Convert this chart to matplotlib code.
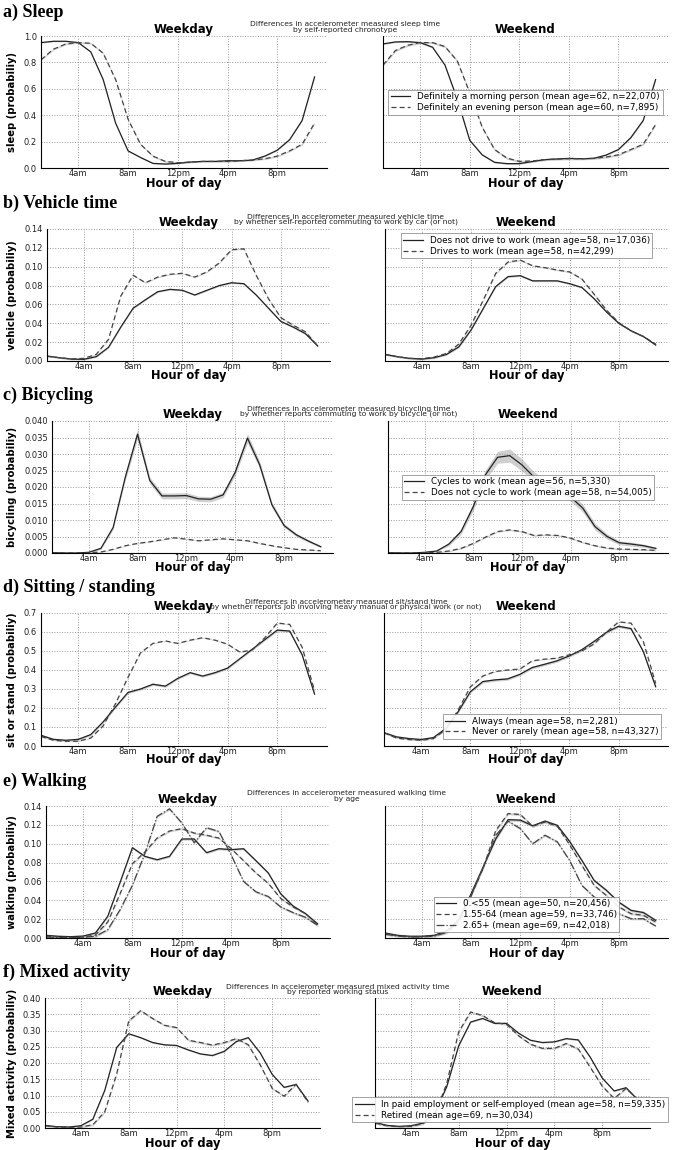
import matplotlib
matplotlib.use('Agg')
import matplotlib.pyplot as plt
from matplotlib import font_manager
import numpy as np

W, H = 673, 1150

hours = list(range(1, 24))
tick_hours = [4, 8, 12, 16, 20]
tick_names = ['4am', '8am', '12pm', '4pm', '8pm']

# a) sleep
sleep_wd_morning = [0.95, 0.96, 0.96, 0.95, 0.88, 0.67, 0.34, 0.13, 0.08, 0.035, 0.03, 0.035, 0.045, 0.05, 0.05, 0.055, 0.055, 0.06, 0.09, 0.135, 0.215, 0.36, 0.69]
sleep_wd_evening = [0.82, 0.90, 0.94, 0.95, 0.945, 0.87, 0.67, 0.37, 0.18, 0.09, 0.05, 0.04, 0.045, 0.05, 0.05, 0.05, 0.055, 0.06, 0.07, 0.09, 0.13, 0.18, 0.34]
sleep_we_morning = [0.94, 0.955, 0.957, 0.95, 0.915, 0.78, 0.52, 0.21, 0.10, 0.043, 0.033, 0.033, 0.048, 0.063, 0.068, 0.073, 0.07, 0.073, 0.098, 0.14, 0.23, 0.36, 0.67]
sleep_we_evening = [0.78, 0.89, 0.93, 0.95, 0.95, 0.92, 0.81, 0.57, 0.31, 0.14, 0.075, 0.05, 0.053, 0.063, 0.068, 0.07, 0.07, 0.073, 0.083, 0.10, 0.14, 0.18, 0.33]
sleep_labels = ['Definitely a morning person (mean age=62, n=22,070)',
                'Definitely an evening person (mean age=60, n=7,895)']

# b) vehicle
vehicle_wd_nodrive = [0.0053, 0.0035, 0.002, 0.0018, 0.0046, 0.0145, 0.036, 0.056, 0.065, 0.0735, 0.076, 0.075, 0.070, 0.075, 0.080, 0.083, 0.082, 0.070, 0.056, 0.042, 0.036, 0.029, 0.016]
vehicle_wd_drive = [0.005, 0.0035, 0.0022, 0.0028, 0.007, 0.023, 0.069, 0.091, 0.083, 0.089, 0.092, 0.093, 0.089, 0.0945, 0.104, 0.118, 0.119, 0.091, 0.066, 0.046, 0.038, 0.031, 0.016]
vehicle_we_nodrive = [0.007, 0.0046, 0.0028, 0.002, 0.0035, 0.007, 0.015, 0.033, 0.056, 0.079, 0.0895, 0.0905, 0.085, 0.085, 0.085, 0.082, 0.078, 0.066, 0.052, 0.040, 0.032, 0.026, 0.017]
vehicle_we_drive = [0.007, 0.0046, 0.0028, 0.0025, 0.0042, 0.008, 0.018, 0.038, 0.065, 0.093, 0.105, 0.107, 0.101, 0.099, 0.0965, 0.0945, 0.087, 0.0707, 0.054, 0.0407, 0.032, 0.026, 0.018]
vehicle_labels = ['Does not drive to work (mean age=58, n=17,036)',
                  'Drives to work (mean age=58, n=42,299)']

# c) bicycling
bike_wd_cycles = [0.0001, 0.0, 0.0, 0.0002, 0.0014, 0.0077, 0.023, 0.036, 0.022, 0.0173, 0.0173, 0.0174, 0.0164, 0.0163, 0.0176, 0.0245, 0.0348, 0.0267, 0.0146, 0.0083, 0.0055, 0.0036, 0.0019]
bike_wd_cycles_ci = [0.0001, 0.0, 0.0, 0.0001, 0.0003, 0.0006, 0.001, 0.0015, 0.001, 0.0009, 0.0009, 0.0009, 0.0008, 0.0008, 0.0008, 0.001, 0.0014, 0.0011, 0.0008, 0.0006, 0.0005, 0.0004, 0.0003]
bike_wd_nocycle = [0.0, 0.0, 0.0, 0.0001, 0.0003, 0.0011, 0.0022, 0.0029, 0.0034, 0.004, 0.0046, 0.0042, 0.0037, 0.004, 0.0043, 0.004, 0.0037, 0.0029, 0.0022, 0.0016, 0.0011, 0.0009, 0.0007]
bike_we_cycles = [0.0001, 0.0, 0.0, 0.0002, 0.0006, 0.0027, 0.0065, 0.014, 0.0237, 0.029, 0.0295, 0.0267, 0.023, 0.0204, 0.019, 0.017, 0.0136, 0.008, 0.005, 0.0031, 0.0027, 0.0022, 0.0014]
bike_we_cycles_ci = [0.0, 0.0, 0.0, 0.0001, 0.0002, 0.0005, 0.0008, 0.0012, 0.0015, 0.0018, 0.002, 0.0018, 0.0016, 0.0015, 0.0014, 0.0013, 0.0012, 0.001, 0.0008, 0.0006, 0.0006, 0.0005, 0.0004]
bike_we_nocycle = [0.0, 0.0, 0.0, 0.0001, 0.0002, 0.0006, 0.0014, 0.0029, 0.0048, 0.0065, 0.007, 0.0065, 0.0053, 0.0055, 0.0053, 0.0045, 0.0032, 0.0022, 0.0015, 0.0012, 0.0011, 0.001, 0.0008]
bike_labels = ['Cycles to work (mean age=56, n=5,330)',
               'Does not cycle to work (mean age=58, n=54,005)']

# d) sitting / standing
sit_wd_always = [0.056, 0.035, 0.03, 0.035, 0.06, 0.127, 0.206, 0.282, 0.30, 0.325, 0.315, 0.356, 0.386, 0.368, 0.386, 0.41, 0.46, 0.51, 0.56, 0.61, 0.605, 0.48, 0.273]
sit_wd_never = [0.05, 0.03, 0.025, 0.025, 0.042, 0.106, 0.224, 0.362, 0.49, 0.54, 0.553, 0.54, 0.557, 0.57, 0.557, 0.536, 0.494, 0.506, 0.57, 0.647, 0.64, 0.52, 0.29]
sit_we_always = [0.07, 0.048, 0.039, 0.034, 0.044, 0.092, 0.18, 0.286, 0.339, 0.348, 0.353, 0.377, 0.413, 0.43, 0.448, 0.474, 0.506, 0.55, 0.598, 0.63, 0.618, 0.497, 0.312]
sit_we_never = [0.07, 0.042, 0.034, 0.03, 0.039, 0.086, 0.189, 0.312, 0.368, 0.392, 0.40, 0.405, 0.448, 0.457, 0.462, 0.48, 0.50, 0.536, 0.598, 0.653, 0.647, 0.55, 0.33]
sit_labels = ['Always (mean age=58, n=2,281)',
              'Never or rarely (mean age=58, n=43,327)']

# e) walking
walk_wd_u55 = [0.0028, 0.0018, 0.0014, 0.002, 0.0053, 0.023, 0.059, 0.0958, 0.0866, 0.083, 0.0866, 0.105, 0.105, 0.0905, 0.0947, 0.0937, 0.0947, 0.082, 0.069, 0.047, 0.034, 0.026, 0.015]
walk_wd_55_64 = [0.002, 0.001, 0.0007, 0.001, 0.0032, 0.017, 0.047, 0.079, 0.091, 0.106, 0.1135, 0.116, 0.1113, 0.109, 0.106, 0.0947, 0.082, 0.069, 0.058, 0.042, 0.033, 0.026, 0.014]
walk_wd_65 = [0.001, 0.0005, 0.0005, 0.0007, 0.0018, 0.0088, 0.030, 0.056, 0.0894, 0.129, 0.137, 0.122, 0.101, 0.117, 0.113, 0.088, 0.060, 0.049, 0.044, 0.033, 0.027, 0.022, 0.0134]
walk_we_u55 = [0.0053, 0.0028, 0.0018, 0.0018, 0.0028, 0.0074, 0.0194, 0.047, 0.076, 0.105, 0.1255, 0.125, 0.119, 0.124, 0.1195, 0.1025, 0.0823, 0.061, 0.0505, 0.038, 0.0293, 0.027, 0.0187]
walk_we_55_64 = [0.0046, 0.0025, 0.0014, 0.0014, 0.0025, 0.0067, 0.0187, 0.045, 0.075, 0.114, 0.132, 0.131, 0.1185, 0.123, 0.1185, 0.099, 0.077, 0.0558, 0.045, 0.033, 0.0258, 0.024, 0.017]
walk_we_65 = [0.0039, 0.0021, 0.001, 0.001, 0.002, 0.0057, 0.0177, 0.045, 0.075, 0.109, 0.124, 0.116, 0.10, 0.109, 0.102, 0.0823, 0.0558, 0.0435, 0.034, 0.0258, 0.0205, 0.0205, 0.0127]
walk_labels = ['0.<55 (mean age=50, n=20,456)',
               '1.55-64 (mean age=59, n=33,746)',
               '2.65+ (mean age=69, n=42,018)']

# f) mixed activity
mixed_wd_paid = [0.008, 0.004, 0.003, 0.007, 0.027, 0.116, 0.248, 0.29, 0.278, 0.263, 0.256, 0.254, 0.24, 0.228, 0.223, 0.236, 0.266, 0.278, 0.231, 0.165, 0.125, 0.134, 0.083]
mixed_wd_retired = [0.007, 0.003, 0.002, 0.003, 0.01, 0.05, 0.167, 0.329, 0.361, 0.337, 0.316, 0.309, 0.27, 0.263, 0.255, 0.263, 0.275, 0.256, 0.194, 0.122, 0.098, 0.135, 0.079]
mixed_we_paid = [0.017, 0.008, 0.005, 0.007, 0.015, 0.046, 0.127, 0.253, 0.326, 0.337, 0.322, 0.322, 0.292, 0.27, 0.263, 0.265, 0.275, 0.271, 0.218, 0.154, 0.114, 0.124, 0.086]
mixed_we_retired = [0.015, 0.007, 0.004, 0.005, 0.013, 0.04, 0.137, 0.296, 0.357, 0.346, 0.324, 0.319, 0.284, 0.258, 0.245, 0.245, 0.26, 0.243, 0.187, 0.129, 0.091, 0.122, 0.086]
mixed_labels = ['In paid employment or self-employed (mean age=58, n=59,335)',
                'Retired (mean age=69, n=30,034)']

# narrow bold face for the y labels if one is installed
ylab_font = None
for f in font_manager.fontManager.ttflist:
    fn = f.fname.lower()
    if ('narrow' in fn or 'condensed' in fn) and f.weight in (700, 'bold') and 'oblique' not in fn and 'italic' not in fn:
        ylab_font = font_manager.FontProperties(fname=f.fname, size=8)
        break
if ylab_font is None:
    ylab_font = font_manager.FontProperties(family='Liberation Sans', weight='bold', size=6.5)

fig = plt.figure(figsize=(W / 100, H / 100), dpi=100)


def px_axes(x0, x1, y0, y1):
    return fig.add_axes([x0 / W, 1 - y1 / H, (x1 - x0) / W, (y1 - y0) / H])


def style(ax, yticks, fmt, show_y, title):
    ax.set_xlim(1, 24)
    ax.set_ylim(yticks[0], yticks[-1])
    ax.set_xticks(tick_hours)
    ax.set_xticklabels(tick_names)
    ax.set_yticks(yticks)
    if show_y:
        ax.set_yticklabels([fmt % v for v in yticks])
    else:
        ax.set_yticklabels([])
    ax.tick_params(length=0, labelsize=6, labelcolor='#222222')
    ax.tick_params(axis='x', pad=0.5)
    ax.tick_params(axis='y', pad=3)
    ax.grid(True, linestyle=':', color='#999999', linewidth=0.7)
    for s in ['top', 'right']:
        ax.spines[s].set_visible(False)
    ax.spines['left'].set_linewidth(0.8)
    ax.spines['bottom'].set_linewidth(0.8)
    ax.set_title(title, fontsize=8.5, fontweight='bold', pad=2)


line_styles = [dict(color='#222222', linestyle='-'),
               dict(color='#444444', linestyle='--', dashes=(4, 2.5)),
               dict(color='#444444', linestyle='-.')]


def draw(ax, series, bands):
    for i, (vals, band) in enumerate(zip(series, bands)):
        y = np.array(vals)
        b = np.array(band) * np.ones_like(y)
        ax.fill_between(hours, y - b, y + b, color='#cfcfcf', linewidth=0)
        ax.plot(hours, y, linewidth=0.9, **line_styles[i])


rows = [
    dict(name='a) Sleep', ty=12, sub=('Differences in accelerometer measured sleep time', 'by self-reported chronotype'),
         sy=(24, 30), sx=345, ylab='sleep (probabiliy)',
         left=(41, 327, 36, 168), right=(383, 668, 36, 168), xl=183,
         yticks=[0.0, 0.2, 0.4, 0.6, 0.8, 1.0], fmt='%.1f',
         wd=[sleep_wd_morning, sleep_wd_evening], we=[sleep_we_morning, sleep_we_evening],
         wd_ci=[0.004, 0.006], we_ci=[0.005, 0.008], labels=sleep_labels,
         leg=dict(loc='center', bbox_to_anchor=(0.5, 0.5))),
    dict(name='b) Vehicle time', ty=203, sub=('Differences in accelerometer measured vehicle time', 'by whether self-reported commuting to work by car (or not)'),
         sy=(217, 222), sx=346, ylab='vehicle (probabiliy)',
         left=(47, 330, 229, 361), right=(385, 668, 229, 361), xl=375,
         yticks=[0.0, 0.02, 0.04, 0.06, 0.08, 0.10, 0.12, 0.14], fmt='%.2f',
         wd=[vehicle_wd_nodrive, vehicle_wd_drive], we=[vehicle_we_nodrive, vehicle_we_drive],
         wd_ci=[0.0008, 0.0006], we_ci=[0.0009, 0.0007], labels=vehicle_labels,
         leg=dict(loc='upper center', bbox_to_anchor=(0.5, 1.0))),
    dict(name='c) Bicycling', ty=395, sub=('Differences in accelerometer measured bicycling time', 'by whether reports commuting to work by bicycle (or not)'),
         sy=(409, 414), sx=349, ylab='bicycling (probabiliy)',
         left=(52, 333, 421, 553), right=(388, 668, 421, 553), xl=567,
         yticks=[0.0, 0.005, 0.01, 0.015, 0.02, 0.025, 0.03, 0.035, 0.04], fmt='%.3f',
         wd=[bike_wd_cycles, bike_wd_nocycle], we=[bike_we_cycles, bike_we_nocycle],
         wd_ci=[bike_wd_cycles_ci, 0.0001], we_ci=[bike_we_cycles_ci, 0.0002], labels=bike_labels,
         leg=dict(loc='center', bbox_to_anchor=(0.5, 0.5))),
    dict(name='d) Sitting / standing', ty=587, sub=('Differences in accelerometer measured sit/stand time', 'by whether reports job involving heavy manual or physical work (or not)'),
         sy=(602, 607), sx=346, ylab='sit or stand (probabiliy)',
         left=(41, 327, 613, 746), right=(384, 668, 613, 746), xl=760,
         yticks=[0.0, 0.1, 0.2, 0.3, 0.4, 0.5, 0.6, 0.7], fmt='%.1f',
         wd=[sit_wd_always, sit_wd_never], we=[sit_we_always, sit_we_never],
         wd_ci=[0.006, 0.002], we_ci=[0.007, 0.002], labels=sit_labels,
         leg=dict(loc='lower right', bbox_to_anchor=(0.99, 0.02))),
    dict(name='e) Walking', ty=781, sub=('Differences in accelerometer measured walking time', 'by age'),
         sy=(793, 799), sx=347, ylab='walking (probabiliy)',
         left=(46, 330, 806, 938), right=(385, 668, 806, 938), xl=953,
         yticks=[0.0, 0.02, 0.04, 0.06, 0.08, 0.10, 0.12, 0.14], fmt='%.2f',
         wd=[walk_wd_u55, walk_wd_55_64, walk_wd_65], we=[walk_we_u55, walk_we_55_64, walk_we_65],
         wd_ci=[0.0012, 0.001, 0.0012], we_ci=[0.0015, 0.0012, 0.0012], labels=walk_labels,
         leg=dict(loc='lower center', bbox_to_anchor=(0.5, 0.01))),
    dict(name='f) Mixed activity', ty=972, sub=('Differences in accelerometer measured mixed activity time', 'by reported working status'),
         sy=(987, 992), sx=338, ylab='Mixed activity (probabiliy)',
         left=(45, 320, 998, 1128), right=(375, 650, 998, 1128), xl=1143,
         yticks=[0.0, 0.05, 0.10, 0.15, 0.20, 0.25, 0.30, 0.35, 0.40], fmt='%.2f',
         wd=[mixed_wd_paid, mixed_wd_retired], we=[mixed_we_paid, mixed_we_retired],
         wd_ci=[0.002, 0.003], we_ci=[0.002, 0.003], labels=mixed_labels,
         leg=dict(loc='lower center', bbox_to_anchor=(0.49, 0.01))),
]

for r in rows:
    fig.text(3 / W, 1 - r['ty'] / H, r['name'], fontsize=13, fontweight='bold',
             family='Liberation Serif', ha='left', va='center')
    for line, yy in zip(r['sub'], r['sy']):
        fig.text(r['sx'] / W, 1 - yy / H, line, fontsize=5.4, ha='center', va='center', color='#222222')
    axl = px_axes(*r['left'])
    axr = px_axes(*r['right'])
    draw(axl, r['wd'], r['wd_ci'])
    draw(axr, r['we'], r['we_ci'])
    style(axl, r['yticks'], r['fmt'], True, 'Weekday')
    style(axr, r['yticks'], r['fmt'], False, 'Weekend')
    for box in (r['left'], r['right']):
        fig.text((box[0] + box[1]) / 2 / W, 1 - r['xl'] / H, 'Hour of day', fontsize=8.3,
                 fontweight='bold', ha='center', va='center')
    handles = axr.get_lines()
    leg = axr.legend(handles, r['labels'], fontsize=6.3, framealpha=0.9, fancybox=False,
                     edgecolor='#888888', handlelength=2.2, borderpad=0.3, labelspacing=0.2,
                     **r['leg'])
    leg.get_frame().set_linewidth(0.6)
    yc = (r['left'][2] + r['left'][3]) / 2
    fig.text(12 / W, 1 - yc / H, r['ylab'], rotation=90, fontproperties=ylab_font,
             ha='center', va='center')

fig.savefig('out.png', dpi=100)
